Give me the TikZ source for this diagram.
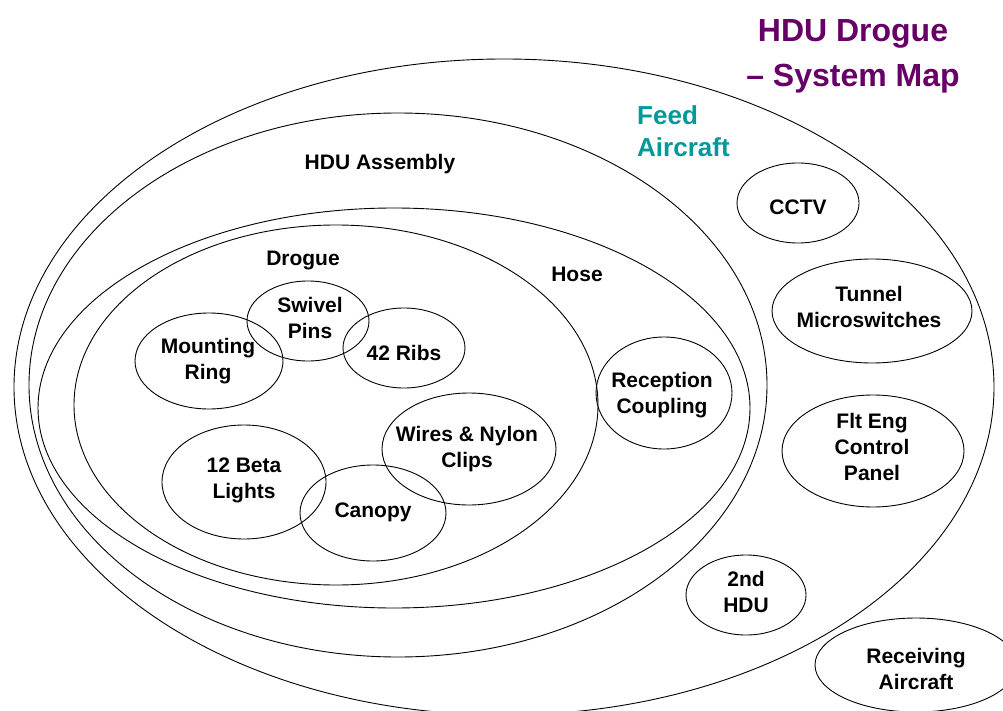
\documentclass[tikz,border=0pt]{standalone}
\usepackage{fontspec}
\setmainfont{Liberation Sans}
\usetikzlibrary{shapes.geometric}
\definecolor{titlepurple}{RGB}{102,0,102}
\definecolor{feedteal}{RGB}{0,153,153}
\begin{document}
\begin{tikzpicture}[x=1pt,y=-1pt,
  ring/.style={ellipse,draw=black,line width=0.9pt,inner sep=0pt},
  lbl/.style={font=\bfseries\fontsize{21}{26}\selectfont,align=center,inner sep=0pt},
  grp/.style={font=\bfseries\fontsize{21}{26}\selectfont,inner sep=0pt}]
\useasboundingbox (0,0) rectangle (1003,711);
\clip (0,0) rectangle (1003,711);

% nested system boundaries
\node[ring,minimum width=980pt,minimum height=656pt] (feed) at (504,387) {};
\node[ring,minimum width=738pt,minimum height=544pt] (hdu) at (398,385) {};
\node[ring,minimum width=712pt,minimum height=400pt] (hose) at (394,408) {};
\node[ring,minimum width=524pt,minimum height=360pt] (drogue) at (336,405) {};

% title
\node[font=\bfseries\fontsize{32}{45}\selectfont,text=titlepurple,align=center,inner sep=0pt] (title) at (853,56) {HDU Drogue\\– System Map};

% group captions
\node[font=\bfseries\fontsize{26}{32}\selectfont,text=feedteal,align=left,inner sep=0pt,anchor=west] (feedlbl) at (637,131) {Feed\\Aircraft};
\node[grp] (hdulbl) at (380,164) {HDU Assembly};
\node[grp] (droguelbl) at (303,261) {Drogue};
\node[grp] (hoselbl) at (577,274) {Hose};

% drogue components
\node[ring,minimum width=122pt,minimum height=80pt] (swivel) at (308,321) {};
\node[lbl] (swivelt) at (310,318) {Swivel\\Pins};
\node[ring,minimum width=148pt,minimum height=96pt] (mount) at (209,361) {};
\node[lbl] (mountt) at (208,361) {Mounting\\Ring};
\node[ring,minimum width=122pt,minimum height=80pt] (ribs) at (404,348) {};
\node[lbl] (ribst) at (404,353) {42 Ribs};
\node[ring,minimum width=174pt,minimum height=112pt] (wires) at (469,449) {};
\node[lbl] (wirest) at (467,449) {Wires \& Nylon\\Clips};
\node[ring,minimum width=164pt,minimum height=114pt] (beta) at (244,482) {};
\node[lbl] (betat) at (244,480) {12 Beta\\Lights};
\node[ring,minimum width=146pt,minimum height=96pt] (canopy) at (373,513) {};
\node[lbl] (canopyt) at (373,512) {Canopy};

% hose component
\node[ring,minimum width=136pt,minimum height=112pt] (recep) at (664,393) {};
\node[lbl] (recept) at (662,395) {Reception\\Coupling};

% feed aircraft components
\node[ring,minimum width=122pt,minimum height=80pt] (cctv) at (798,203) {};
\node[lbl] (cctvt) at (798,207) {CCTV};
\node[ring,minimum width=200pt,minimum height=104pt] (tunnel) at (872,311) {};
\node[lbl] (tunnelt) at (869,307) {Tunnel\\Microswitches};
\node[ring,minimum width=182pt,minimum height=112pt] (flteng) at (873,451) {};
\node[lbl] (fltengt) at (872,447) {Flt Eng\\Control\\Panel};
\node[ring,minimum width=120pt,minimum height=80pt] (second) at (746,595) {};
\node[lbl] (secondt) at (746,592) {2nd\\HDU};

% outside the feed aircraft
\node[ring,minimum width=202pt,minimum height=94pt] (recv) at (916,665) {};
\node[lbl] (recvt) at (916,669) {Receiving\\Aircraft};
\end{tikzpicture}
\end{document}
